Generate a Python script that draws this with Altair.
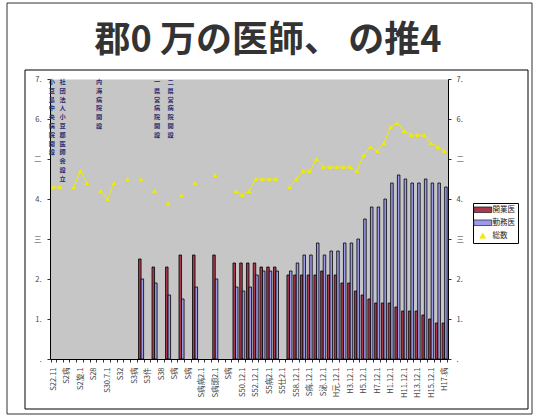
import json
import altair as alt
import pandas as pd

FONT = "Noto Sans CJK JP"
RED = "#A8384C"
PURPLE = "#9B9BE8"
YELLOW = "#F0EC00"
NAVY = "#2C2E70"

title_text = "郡0 万の医師、 の推4"
series_names = ["開業医", "勤務医", "総数"]

n_cats = 59
x_labels = [
    "S22.11", "", "S2病", "", "S2旋.1", "", "S28", "", "S30.7.1", "",
    "S32", "", "S3病", "", "S3件", "", "S38", "", "S病", "",
    "S病", "", "S病病2.1", "", "S病頭2.1", "", "S病", "", "S50.12.1", "",
    "S52.12.1", "", "S5病2.1", "", "S5仕2.1", "", "S58.12.1", "", "S病.12.1", "",
    "S泌.12.1", "", "H元.12.1", "", "H3.12.1", "", "H5.12.1", "", "H7.12.1", "",
    "H1.12.1", "", "H11.12.1", "", "H13.12.1", "", "H15.12.1", "", "H17.病",
]

y_tick_values = [0, 1, 2, 3, 4, 5, 6, 7]
y_tick_labels = [".", "1.", "2.", "三", "4.", "二", "6.", "7."]

bar_cats = [13, 15, 17, 19, 21, 24,
            27, 28, 29, 30, 31, 32, 33,
            35, 36, 37, 38, 39, 40, 41, 42, 43, 44, 45, 46,
            47, 48, 49, 50, 51, 52, 53, 54, 55, 56, 57, 58]
kaigyo = [2.5, 2.3, 2.3, 2.6, 2.6, 2.6,
          2.4, 2.4, 2.4, 2.4, 2.3, 2.3, 2.3,
          2.1, 2.1, 2.1, 2.1, 2.1, 2.2, 2.1, 2.1, 1.9, 1.9, 1.7, 1.6,
          1.5, 1.4, 1.4, 1.4, 1.3, 1.2, 1.2, 1.2, 1.1, 1.0, 0.9, 0.9]
kinmu = [2.0, 1.9, 1.6, 1.5, 1.8, 2.0,
         1.8, 1.7, 1.8, 2.1, 2.2, 2.2, 2.2,
         2.2, 2.4, 2.6, 2.6, 2.9, 2.6, 2.7, 2.7, 2.9, 2.9, 3.0, 3.5,
         3.8, 3.8, 4.0, 4.4, 4.6, 4.5, 4.4, 4.4, 4.5, 4.4, 4.4, 4.3]

total_cats = [0, 1, 3, 4, 5, 7, 8, 9, 11, 13, 15, 17, 19, 21, 24,
              27, 28, 29, 30, 31, 32, 33,
              35, 36, 37, 38, 39, 40, 41, 42, 43, 44, 45, 46,
              47, 48, 49, 50, 51, 52, 53, 54, 55, 56, 57, 58]
total = [4.3, 4.3, 4.3, 4.7, 4.4, 4.2, 4.0, 4.4, 4.5, 4.5, 4.2, 3.9, 4.1, 4.4, 4.6,
         4.2, 4.1, 4.2, 4.5, 4.5, 4.5, 4.5,
         4.3, 4.5, 4.7, 4.7, 5.0, 4.8, 4.8, 4.8, 4.8, 4.8, 4.7, 5.1,
         5.3, 5.2, 5.4, 5.8, 5.9, 5.7, 5.6, 5.6, 5.6, 5.4, 5.3, 5.2]

ann_cats = [0, 1, 7, 15, 17]
ann_texts = ["小豆島中央病院開設", "社団法人小豆郡医師会設立", "内海病院開設",
             "一県営病院開設", "二県営病院開設"]

# ---- tables ----
bar_rows = []
for c, v in zip(bar_cats, kaigyo):
    bar_rows.append({"cat": c, "series": series_names[0], "value": v})
for c, v in zip(bar_cats, kinmu):
    bar_rows.append({"cat": c, "series": series_names[1], "value": v})
bar_df = pd.DataFrame(bar_rows)

runs = []
run = 0
prev = None
for c in total_cats:
    if prev is not None and c != prev + 1:
        run += 1
    runs.append(run)
    prev = c
total_df = pd.DataFrame({"cat": total_cats, "value": total, "run": runs,
                         "series": series_names[2]})

ann_df = pd.DataFrame({"cat": ann_cats, "text": ["\n".join(list(t)) for t in ann_texts]})

x_label_expr = json.dumps(x_labels, ensure_ascii=False) + "[datum.value]"
y_label_expr = json.dumps(y_tick_labels, ensure_ascii=False) + "[datum.value]"

x_scale = alt.Scale(domain=list(range(n_cats)), paddingInner=0.25, paddingOuter=0.125)
x_axis = alt.Axis(title=None, labelExpr=x_label_expr, labelAngle=270, labelAlign="right",
                  labelBaseline="middle", labelFont=FONT, labelFontSize=7.5, labelColor="#444444",
                  labelPadding=5, labelOverlap=False, tickBand="extent", tickSize=3,
                  tickColor="#333333", domainColor="#000000", labelBound=False)


def x_enc():
    return alt.X("cat:O", scale=x_scale, axis=x_axis)


y_scale = alt.Scale(domain=[0, 7], nice=False, zero=True)


def y_axis(orient, pad):
    return alt.Axis(title=None, orient=orient, values=y_tick_values, labelExpr=y_label_expr,
                    grid=False, tickSize=3, tickColor="#333333", domainColor="#000000",
                    labelFont=FONT, labelFontSize=7.5, labelColor="#444444", labelPadding=pad)


RECT = "M-3,-0.93H3V0.93H-3Z"
TRI = "M-1,0.85L0,-0.95L1,0.85Z"

sym_stroke = alt.ExprRef(
    expr="datum.value === " + json.dumps(series_names[2], ensure_ascii=False)
    + " ? '" + YELLOW + "' : '#000000'"
)

legend = alt.Legend(title=None, orient="none", legendX=423, legendY=124,
                    strokeColor="#000000", fillColor="#FFFFFF", padding=3,
                    symbolSize=36, symbolOffset=3, labelOffset=6,
                    labelFont=FONT, labelFontSize=7.5, labelColor="#222222",
                    rowPadding=4, symbolStrokeColor=sym_stroke, symbolStrokeWidth=0.6,
                    cornerRadius=0)

frame_df = pd.DataFrame({"k": [0]})
outer = alt.Chart(frame_df).mark_rect(fillOpacity=0, stroke="#333333", strokeWidth=1).encode(
    x=alt.value(-43), x2=alt.value(482), y=alt.value(-76), y2=alt.value(335))
inner = alt.Chart(frame_df).mark_rect(fillOpacity=0, stroke="#000000", strokeWidth=1).encode(
    x=alt.value(-25), x2=alt.value(478), y=alt.value(-9), y2=alt.value(330))

bars = alt.Chart(bar_df).mark_bar(stroke="#000000", strokeWidth=0.8).encode(
    x=x_enc(),
    xOffset=alt.XOffset("series:N", scale=alt.Scale(domain=series_names[:2])),
    y=alt.Y("value:Q", scale=y_scale, axis=y_axis("left", 6)),
    fill=alt.Fill("series:N", scale=alt.Scale(domain=series_names[:2], range=[RED, PURPLE]),
                  legend=None),
)

line = alt.Chart(total_df).mark_line(color=YELLOW, strokeWidth=1).encode(
    x=x_enc(),
    y=alt.Y("value:Q", scale=y_scale, axis=y_axis("right", 5)),
    detail="run:N",
)

points = alt.Chart(total_df).mark_point(filled=True, size=20, opacity=1).encode(
    x=x_enc(),
    y=alt.Y("value:Q", scale=y_scale, axis=None),
    color=alt.Color("series:N", scale=alt.Scale(domain=series_names, range=[RED, PURPLE, YELLOW]),
                    legend=legend),
    shape=alt.Shape("series:N", scale=alt.Scale(domain=series_names, range=[RECT, RECT, TRI]),
                    legend=legend),
)


def ann_layer(cats, shift):
    return alt.Chart(ann_df).transform_filter(
        alt.FieldOneOfPredicate(field="cat", oneOf=cats)
    ).mark_text(lineBreak="\n", baseline="top", align="center", dx=shift,
                font=FONT, fontSize=6.2, fontWeight="bold",
                color=NAVY, lineHeight=8.8).encode(
        x=x_enc(),
        y=alt.YDatum(7, scale=y_scale, axis=None),
        text="text:N",
    )


texts_a = ann_layer([0, 7], -1.5)
texts_b = ann_layer([1, 15, 17], 2.5)

chart = alt.layer(outer, inner, bars, line, points, texts_a, texts_b).resolve_axis(
    y="independent"
).properties(
    width=398,
    height=280,
    title=alt.TitleParams(text=title_text, font=FONT, fontSize=36, fontWeight="bold",
                          color="#333333", anchor="middle", frame="group", dx=19, offset=-57),
    padding={"left": 50, "top": 79, "right": 88, "bottom": 61},
    autosize=alt.AutoSizeParams(type="none"),
    background="#FFFFFF",
).configure_view(fill="#C6C6C6", stroke="transparent")

chart.save("out.html", embed_options={"renderer": "svg", "actions": False})
